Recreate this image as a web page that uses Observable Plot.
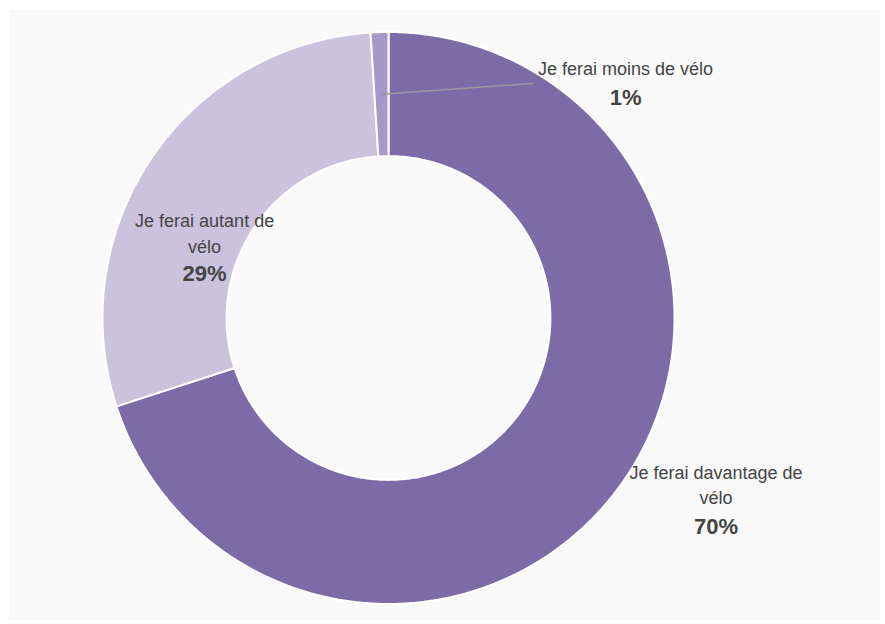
<!DOCTYPE html>
<html>
<head>
<meta charset="utf-8">
<script src="https://cdn.jsdelivr.net/npm/d3@7"></script>
<script src="https://cdn.jsdelivr.net/npm/@observablehq/plot@0.6"></script>
<style>
  html, body { margin: 0; padding: 0; background: #ffffff; }
  #panel { position: absolute; left: 9px; top: 9px; width: 871px; height: 611px; background: #f9f9f9; }
</style>
</head>
<body>
<div id="panel"></div>
<script>
// ---- data ----
const categories = ["Je ferai davantage de vélo", "Je ferai autant de vélo", "Je ferai moins de vélo"];
const values = [70, 29, 1];
const colors = ["#7b6ca7", "#cbc3de", "#a698c8"];
const wrapLabel = [true, true, false];

// ---- layout (data units, outer radius = 1 = 286px) ----
const innerRatio = 0.566;
const pxPerUnit = 286;
const labelAnchors = [[1.145, -0.652], [-0.643, 0.229], [0.829, 0.848]];
const pctOffset = [30, 28, 30];
const leaderEnd = [[null, null], [null, null], [0.503, 0.820]];

const font = "'Liberation Sans', Arial, sans-serif";

const pie = d3.pie().sort(null).value(d => d.value)(categories.map((c, i) => ({cat: c, value: values[i]})));

const pts = [];
pie.forEach(s => {
  const n = Math.max(2, Math.ceil((s.endAngle - s.startAngle) / (Math.PI / 360)));
  for (let k = 0; k <= n; k++) {
    const a = s.startAngle + (s.endAngle - s.startAngle) * k / n;
    pts.push({cat: s.data.cat, x: Math.sin(a), y: Math.cos(a)});
  }
  for (let k = n; k >= 0; k--) {
    const a = s.startAngle + (s.endAngle - s.startAngle) * k / n;
    pts.push({cat: s.data.cat, x: innerRatio * Math.sin(a), y: innerRatio * Math.cos(a)});
  }
});

const labels = categories.map((c, i) => ({
  name: wrapLabel[i] ? c.replace(/ vélo$/, "\nvélo") : c,
  pct: values[i] + "%",
  x: labelAnchors[i][0], y: labelAnchors[i][1],
  py: labelAnchors[i][1] - pctOffset[i] / pxPerUnit
}));

const leaders = [];
pie.forEach((s, i) => {
  if (leaderEnd[i][0] !== null) {
    const m = (s.startAngle + s.endAngle) / 2, r = (1 + innerRatio) / 2;
    leaders.push({id: i, x: r * Math.sin(m), y: r * Math.cos(m)});
    leaders.push({id: i, x: leaderEnd[i][0], y: leaderEnd[i][1]});
  }
});

const chart = Plot.plot({
  width: 871, height: 611,
  marginLeft: 93, marginRight: 206, marginTop: 22.5, marginBottom: 16.5,
  x: {domain: [-1, 1], axis: null},
  y: {domain: [-1, 1], axis: null},
  color: {domain: categories, range: colors},
  style: {background: "transparent", fontFamily: font},
  marks: [
    Plot.line(pts, {x: "x", y: "y", z: "cat", fill: "cat", stroke: "white", strokeWidth: 2, curve: "linear-closed"}),
    Plot.line(leaders, {x: "x", y: "y", z: "id", stroke: "#999999", strokeWidth: 1.5}),
    Plot.text(labels, {x: "x", y: "y", text: "name", fontSize: 18, lineHeight: 1.39, lineAnchor: "bottom", fill: "#444444"}),
    Plot.text(labels, {x: "x", y: "py", text: "pct", fontSize: 22, fontWeight: "bold", lineAnchor: "bottom", fill: "#444444"})
  ]
});
document.getElementById("panel").appendChild(chart);
</script>
</body>
</html>
